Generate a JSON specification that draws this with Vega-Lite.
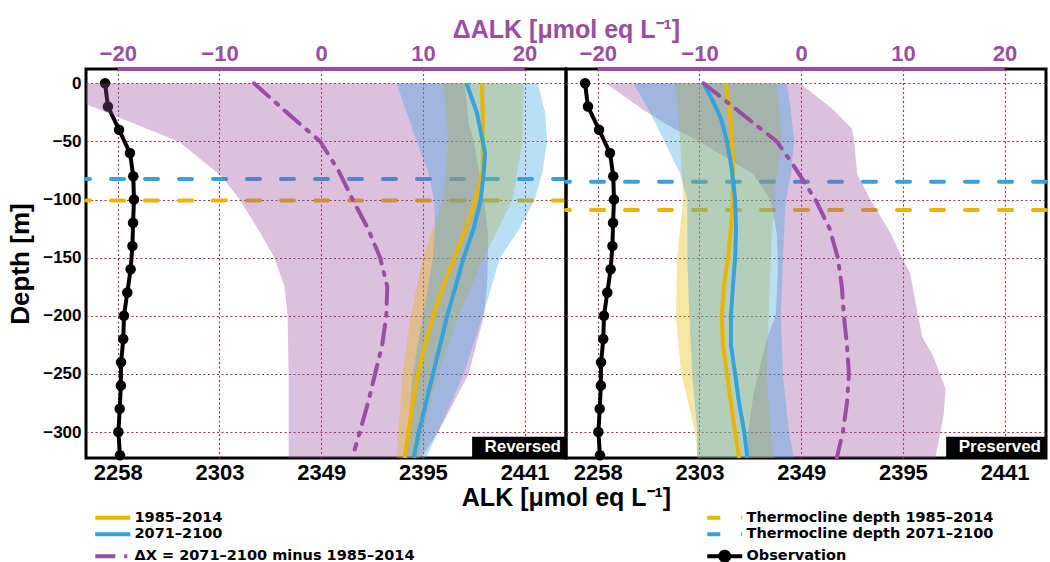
{
  "$schema": "https://vega.github.io/schema/vega-lite/v6.json",
  "padding": {"left": 6, "top": 15, "right": 0, "bottom": 0},
  "background": "white",
  "spacing": 0,
  "bounds": "flush",
  "datasets": {
    "obs": [
      {"series": "Observation", "depth": 0, "alk": 2251.8},
      {"series": "Observation", "depth": -20, "alk": 2253.1},
      {"series": "Observation", "depth": -40, "alk": 2258.1},
      {"series": "Observation", "depth": -60, "alk": 2263.0},
      {"series": "Observation", "depth": -80, "alk": 2264.5},
      {"series": "Observation", "depth": -100, "alk": 2264.8},
      {"series": "Observation", "depth": -120, "alk": 2264.4},
      {"series": "Observation", "depth": -140, "alk": 2264.1},
      {"series": "Observation", "depth": -160, "alk": 2263.3},
      {"series": "Observation", "depth": -180, "alk": 2261.8},
      {"series": "Observation", "depth": -200, "alk": 2260.3},
      {"series": "Observation", "depth": -220, "alk": 2260.0},
      {"series": "Observation", "depth": -240, "alk": 2259.0},
      {"series": "Observation", "depth": -260, "alk": 2258.9},
      {"series": "Observation", "depth": -280, "alk": 2258.4},
      {"series": "Observation", "depth": -300, "alk": 2257.8},
      {"series": "Observation", "depth": -320, "alk": 2258.5}
    ],
    "thermo": [
      {"panel": "L", "series": "Thermocline depth 1985–2014", "depth": -100.9},
      {"panel": "L", "series": "Thermocline depth 2071–2100", "depth": -82.3},
      {"panel": "R", "series": "Thermocline depth 1985–2014", "depth": -108.9},
      {"panel": "R", "series": "Thermocline depth 2071–2100", "depth": -84.6}
    ],
    "labels": [
      {"panel": "L", "label": "Reversed"},
      {"panel": "R", "label": "Preserved"}
    ],
    "lines": [
      {"panel": "L", "series": "1985–2014", "depth": 0, "alk": 2421.3},
      {"panel": "L", "series": "1985–2014", "depth": -25, "alk": 2421.7},
      {"panel": "L", "series": "1985–2014", "depth": -50, "alk": 2421.7},
      {"panel": "L", "series": "1985–2014", "depth": -75, "alk": 2421.7},
      {"panel": "L", "series": "1985–2014", "depth": -100, "alk": 2418.5},
      {"panel": "L", "series": "1985–2014", "depth": -125, "alk": 2414.0},
      {"panel": "L", "series": "1985–2014", "depth": -150, "alk": 2408.9},
      {"panel": "L", "series": "1985–2014", "depth": -175, "alk": 2403.9},
      {"panel": "L", "series": "1985–2014", "depth": -200, "alk": 2399.3},
      {"panel": "L", "series": "1985–2014", "depth": -225, "alk": 2395.7},
      {"panel": "L", "series": "1985–2014", "depth": -250, "alk": 2392.5},
      {"panel": "L", "series": "1985–2014", "depth": -275, "alk": 2390.2},
      {"panel": "L", "series": "1985–2014", "depth": -300, "alk": 2388.3},
      {"panel": "L", "series": "1985–2014", "depth": -322.3, "alk": 2386.5},
      {"panel": "L", "series": "2071–2100", "depth": 0, "alk": 2414.4},
      {"panel": "L", "series": "2071–2100", "depth": -25, "alk": 2419.0},
      {"panel": "L", "series": "2071–2100", "depth": -50, "alk": 2421.7},
      {"panel": "L", "series": "2071–2100", "depth": -60, "alk": 2422.7},
      {"panel": "L", "series": "2071–2100", "depth": -75, "alk": 2422.2},
      {"panel": "L", "series": "2071–2100", "depth": -100, "alk": 2420.8},
      {"panel": "L", "series": "2071–2100", "depth": -125, "alk": 2417.6},
      {"panel": "L", "series": "2071–2100", "depth": -150, "alk": 2413.1},
      {"panel": "L", "series": "2071–2100", "depth": -175, "alk": 2409.4},
      {"panel": "L", "series": "2071–2100", "depth": -200, "alk": 2405.7},
      {"panel": "L", "series": "2071–2100", "depth": -225, "alk": 2402.5},
      {"panel": "L", "series": "2071–2100", "depth": -250, "alk": 2399.3},
      {"panel": "L", "series": "2071–2100", "depth": -275, "alk": 2396.1},
      {"panel": "L", "series": "2071–2100", "depth": -300, "alk": 2392.9},
      {"panel": "L", "series": "2071–2100", "depth": -322.3, "alk": 2390.6},
      {"panel": "R", "series": "1985–2014", "depth": 0, "alk": 2315.1},
      {"panel": "R", "series": "1985–2014", "depth": -25, "alk": 2317.0},
      {"panel": "R", "series": "1985–2014", "depth": -50, "alk": 2317.9},
      {"panel": "R", "series": "1985–2014", "depth": -75, "alk": 2318.3},
      {"panel": "R", "series": "1985–2014", "depth": -100, "alk": 2318.3},
      {"panel": "R", "series": "1985–2014", "depth": -125, "alk": 2317.4},
      {"panel": "R", "series": "1985–2014", "depth": -150, "alk": 2316.1},
      {"panel": "R", "series": "1985–2014", "depth": -175, "alk": 2314.2},
      {"panel": "R", "series": "1985–2014", "depth": -200, "alk": 2313.3},
      {"panel": "R", "series": "1985–2014", "depth": -225, "alk": 2313.8},
      {"panel": "R", "series": "1985–2014", "depth": -250, "alk": 2315.6},
      {"panel": "R", "series": "1985–2014", "depth": -275, "alk": 2317.4},
      {"panel": "R", "series": "1985–2014", "depth": -300, "alk": 2319.3},
      {"panel": "R", "series": "1985–2014", "depth": -322.3, "alk": 2321.1},
      {"panel": "R", "series": "2071–2100", "depth": 0, "alk": 2305.1},
      {"panel": "R", "series": "2071–2100", "depth": -15, "alk": 2309.2},
      {"panel": "R", "series": "2071–2100", "depth": -30, "alk": 2312.9},
      {"panel": "R", "series": "2071–2100", "depth": -50, "alk": 2315.6},
      {"panel": "R", "series": "2071–2100", "depth": -75, "alk": 2317.9},
      {"panel": "R", "series": "2071–2100", "depth": -100, "alk": 2319.3},
      {"panel": "R", "series": "2071–2100", "depth": -125, "alk": 2319.7},
      {"panel": "R", "series": "2071–2100", "depth": -150, "alk": 2319.3},
      {"panel": "R", "series": "2071–2100", "depth": -175, "alk": 2318.3},
      {"panel": "R", "series": "2071–2100", "depth": -200, "alk": 2317.4},
      {"panel": "R", "series": "2071–2100", "depth": -225, "alk": 2317.4},
      {"panel": "R", "series": "2071–2100", "depth": -250, "alk": 2319.3},
      {"panel": "R", "series": "2071–2100", "depth": -275, "alk": 2321.1},
      {"panel": "R", "series": "2071–2100", "depth": -300, "alk": 2323.4},
      {"panel": "R", "series": "2071–2100", "depth": -322.3, "alk": 2324.8}
    ],
    "dline": [
      {"panel": "L", "series": "ΔX = 2071–2100 minus 1985–2014", "depth": 0, "dalk": -6.6},
      {"panel": "L", "series": "ΔX = 2071–2100 minus 1985–2014", "depth": -25, "dalk": -3.4},
      {"panel": "L", "series": "ΔX = 2071–2100 minus 1985–2014", "depth": -50, "dalk": -0.1},
      {"panel": "L", "series": "ΔX = 2071–2100 minus 1985–2014", "depth": -75, "dalk": 1.7},
      {"panel": "L", "series": "ΔX = 2071–2100 minus 1985–2014", "depth": -100, "dalk": 3.1},
      {"panel": "L", "series": "ΔX = 2071–2100 minus 1985–2014", "depth": -125, "dalk": 4.6},
      {"panel": "L", "series": "ΔX = 2071–2100 minus 1985–2014", "depth": -150, "dalk": 5.8},
      {"panel": "L", "series": "ΔX = 2071–2100 minus 1985–2014", "depth": -175, "dalk": 6.5},
      {"panel": "L", "series": "ΔX = 2071–2100 minus 1985–2014", "depth": -200, "dalk": 6.4},
      {"panel": "L", "series": "ΔX = 2071–2100 minus 1985–2014", "depth": -225, "dalk": 6.0},
      {"panel": "L", "series": "ΔX = 2071–2100 minus 1985–2014", "depth": -250, "dalk": 5.3},
      {"panel": "L", "series": "ΔX = 2071–2100 minus 1985–2014", "depth": -275, "dalk": 4.6},
      {"panel": "L", "series": "ΔX = 2071–2100 minus 1985–2014", "depth": -300, "dalk": 3.8},
      {"panel": "L", "series": "ΔX = 2071–2100 minus 1985–2014", "depth": -315, "dalk": 3.3},
      {"panel": "R", "series": "ΔX = 2071–2100 minus 1985–2014", "depth": 0, "dalk": -9.6},
      {"panel": "R", "series": "ΔX = 2071–2100 minus 1985–2014", "depth": -25, "dalk": -6.0},
      {"panel": "R", "series": "ΔX = 2071–2100 minus 1985–2014", "depth": -50, "dalk": -2.4},
      {"panel": "R", "series": "ΔX = 2071–2100 minus 1985–2014", "depth": -70, "dalk": -0.8},
      {"panel": "R", "series": "ΔX = 2071–2100 minus 1985–2014", "depth": -100, "dalk": 1.4},
      {"panel": "R", "series": "ΔX = 2071–2100 minus 1985–2014", "depth": -125, "dalk": 2.8},
      {"panel": "R", "series": "ΔX = 2071–2100 minus 1985–2014", "depth": -150, "dalk": 3.6},
      {"panel": "R", "series": "ΔX = 2071–2100 minus 1985–2014", "depth": -175, "dalk": 4.0},
      {"panel": "R", "series": "ΔX = 2071–2100 minus 1985–2014", "depth": -200, "dalk": 4.2},
      {"panel": "R", "series": "ΔX = 2071–2100 minus 1985–2014", "depth": -225, "dalk": 4.5},
      {"panel": "R", "series": "ΔX = 2071–2100 minus 1985–2014", "depth": -250, "dalk": 4.7},
      {"panel": "R", "series": "ΔX = 2071–2100 minus 1985–2014", "depth": -275, "dalk": 4.5},
      {"panel": "R", "series": "ΔX = 2071–2100 minus 1985–2014", "depth": -300, "dalk": 4.1},
      {"panel": "R", "series": "ΔX = 2071–2100 minus 1985–2014", "depth": -322.3, "dalk": 3.5}
    ],
    "bands": [
      {"panel": "L", "series": "1985–2014", "depth": 0, "lo": 2403.9, "hi": 2440.0},
      {"panel": "L", "series": "1985–2014", "depth": -50, "lo": 2406.2, "hi": 2439.6},
      {"panel": "L", "series": "1985–2014", "depth": -100, "lo": 2403.9, "hi": 2435.0},
      {"panel": "L", "series": "1985–2014", "depth": -150, "lo": 2394.8, "hi": 2422.2},
      {"panel": "L", "series": "1985–2014", "depth": -200, "lo": 2389.3, "hi": 2410.8},
      {"panel": "L", "series": "1985–2014", "depth": -250, "lo": 2385.6, "hi": 2401.6},
      {"panel": "L", "series": "1985–2014", "depth": -300, "lo": 2383.8, "hi": 2394.8},
      {"panel": "L", "series": "1985–2014", "depth": -322.3, "lo": 2382.9, "hi": 2392.9},
      {"panel": "L", "series": "2071–2100", "depth": 0, "lo": 2382.9, "hi": 2446.4},
      {"panel": "L", "series": "2071–2100", "depth": -25, "lo": 2387.4, "hi": 2449.7},
      {"panel": "L", "series": "2071–2100", "depth": -50, "lo": 2392.0, "hi": 2450.6},
      {"panel": "L", "series": "2071–2100", "depth": -75, "lo": 2397.0, "hi": 2448.7},
      {"panel": "L", "series": "2071–2100", "depth": -100, "lo": 2399.8, "hi": 2445.1},
      {"panel": "L", "series": "2071–2100", "depth": -125, "lo": 2400.2, "hi": 2438.2},
      {"panel": "L", "series": "2071–2100", "depth": -150, "lo": 2399.3, "hi": 2429.5},
      {"panel": "L", "series": "2071–2100", "depth": -200, "lo": 2394.8, "hi": 2421.7},
      {"panel": "L", "series": "2071–2100", "depth": -250, "lo": 2390.2, "hi": 2413.1},
      {"panel": "L", "series": "2071–2100", "depth": -300, "lo": 2387.9, "hi": 2401.6},
      {"panel": "L", "series": "2071–2100", "depth": -322.3, "lo": 2387.0, "hi": 2396.1},
      {"panel": "R", "series": "1985–2014", "depth": 0, "lo": 2292.3, "hi": 2338.0},
      {"panel": "R", "series": "1985–2014", "depth": -49, "lo": 2294.6, "hi": 2340.3},
      {"panel": "R", "series": "1985–2014", "depth": -100, "lo": 2295.9, "hi": 2336.6},
      {"panel": "R", "series": "1985–2014", "depth": -150, "lo": 2293.2, "hi": 2335.3},
      {"panel": "R", "series": "1985–2014", "depth": -200, "lo": 2292.7, "hi": 2334.4},
      {"panel": "R", "series": "1985–2014", "depth": -250, "lo": 2295.0, "hi": 2333.4},
      {"panel": "R", "series": "1985–2014", "depth": -300, "lo": 2301.4, "hi": 2335.3},
      {"panel": "R", "series": "1985–2014", "depth": -322.3, "lo": 2302.3, "hi": 2336.6},
      {"panel": "R", "series": "2071–2100", "depth": 0, "lo": 2273.5, "hi": 2342.6},
      {"panel": "R", "series": "2071–2100", "depth": -23, "lo": 2280.4, "hi": 2344.4},
      {"panel": "R", "series": "2071–2100", "depth": -49, "lo": 2287.2, "hi": 2345.8},
      {"panel": "R", "series": "2071–2100", "depth": -78, "lo": 2294.6, "hi": 2344.4},
      {"panel": "R", "series": "2071–2100", "depth": -100, "lo": 2297.8, "hi": 2342.1},
      {"panel": "R", "series": "2071–2100", "depth": -150, "lo": 2297.8, "hi": 2340.8},
      {"panel": "R", "series": "2071–2100", "depth": -200, "lo": 2298.7, "hi": 2339.9},
      {"panel": "R", "series": "2071–2100", "depth": -250, "lo": 2300.0, "hi": 2340.8},
      {"panel": "R", "series": "2071–2100", "depth": -300, "lo": 2302.3, "hi": 2343.5},
      {"panel": "R", "series": "2071–2100", "depth": -322.3, "lo": 2302.3, "hi": 2345.8}
    ],
    "dband": [
      {"panel": "L", "depth": 0, "lo": -28.0, "hi": 14.1},
      {"panel": "L", "depth": -18, "lo": -23.12, "hi": 14.3},
      {"panel": "L", "depth": -35, "lo": -18.3, "hi": 14.5},
      {"panel": "L", "depth": -50, "lo": -14.0, "hi": 15.0},
      {"panel": "L", "depth": -80, "lo": -9.8, "hi": 15.6},
      {"panel": "L", "depth": -100, "lo": -8.0, "hi": 16.0},
      {"panel": "L", "depth": -130, "lo": -5.9, "hi": 16.4},
      {"panel": "L", "depth": -150, "lo": -4.6, "hi": 16.4},
      {"panel": "L", "depth": -175, "lo": -3.6, "hi": 16.3},
      {"panel": "L", "depth": -200, "lo": -3.3, "hi": 16.0},
      {"panel": "L", "depth": -250, "lo": -3.2, "hi": 14.5},
      {"panel": "L", "depth": -300, "lo": -3.2, "hi": 11.5},
      {"panel": "L", "depth": -322.3, "lo": -3.2, "hi": 9.8},
      {"panel": "R", "depth": 0, "lo": -19.2, "hi": -0.1},
      {"panel": "R", "depth": -23, "lo": -15.5, "hi": 3.2},
      {"panel": "R", "depth": -39, "lo": -12.5, "hi": 5.0},
      {"panel": "R", "depth": -49, "lo": -10.2, "hi": 5.2},
      {"panel": "R", "depth": -78, "lo": -4.7, "hi": 5.5},
      {"panel": "R", "depth": -100, "lo": -3.0, "hi": 6.8},
      {"panel": "R", "depth": -129, "lo": -2.4, "hi": 8.8},
      {"panel": "R", "depth": -150, "lo": -2.3, "hi": 9.9},
      {"panel": "R", "depth": -163, "lo": -2.3, "hi": 10.7},
      {"panel": "R", "depth": -200, "lo": -2.5, "hi": 11.5},
      {"panel": "R", "depth": -218, "lo": -3.3, "hi": 11.9},
      {"panel": "R", "depth": -235, "lo": -3.8, "hi": 13.0},
      {"panel": "R", "depth": -263, "lo": -4.6, "hi": 14.2},
      {"panel": "R", "depth": -286, "lo": -5.0, "hi": 14.0},
      {"panel": "R", "depth": -322.3, "lo": -5.5, "hi": 13.2}
    ]
  },
  "hconcat": [
    {
      "width": 480,
      "height": 389,
      "resolve": {"scale": {"x": "independent"}, "axis": {"x": "independent"}},
      "layer": [
        {
          "data": {"name": "obs"},
          "mark": {"type": "line", "strokeWidth": 4},
          "encoding": {
            "x": {"field": "alk", "type": "quantitative", "scale": {"domain": [2243.23, 2459.12], "nice": false, "zero": false},
              "axis": {"orient": "bottom", "values": [2257.5, 2303.25, 2349, 2394.75, 2440.5], "format": "d", "labelFontSize": 22, "labelPadding": 4, "grid": true, "labelFlush": false, "labelOverlap": false, "title": "ALK [μmol eq L⁻¹]", "titleFontSize": 25, "titleX": 480, "titlePadding": 2}},
            "y": {"field": "depth", "type": "quantitative", "scale": {"domain": [-322.3, 12.3], "nice": false, "zero": false},
              "axis": {"values": [0, -50, -100, -150, -200, -250, -300], "title": "Depth [m]", "titleFontSize": 26, "labelFontSize": 17, "labelPadding": 5, "titlePadding": 9, "grid": true, "labelFlush": false}},
            "order": {"field": "depth", "sort": "descending"},
            "color": {"field": "series", "type": "nominal", "scale": {"domain": ["1985–2014", "2071–2100", "ΔX = 2071–2100 minus 1985–2014", "Thermocline depth 1985–2014", "Thermocline depth 2071–2100", "Observation"], "range": ["#E8B500", "#33A2DE", "#9A4EA3", "#E8B500", "#33A2DE", "#000000"]},
              "legend": {"orient": "none", "legendX": 7, "legendY": 441, "columns": 2, "columnPadding": 284, "rowPadding": 0, "title": null,
                "encode": {"symbols": {"update": {"shape": {"signal": "datum.value === 'Observation' ? 'M-1,0H6M1.6,0A0.9,0.9 0 1,1 3.4,0A0.9,0.9 0 1,1 1.6,0Z' : 'M-1,0H6'"}, "fill": {"signal": "datum.value === 'Observation' ? 'black' : 'transparent'"}}}}}},
            "strokeDash": {"field": "series", "type": "nominal", "scale": {"domain": ["1985–2014", "2071–2100", "ΔX = 2071–2100 minus 1985–2014", "Thermocline depth 1985–2014", "Thermocline depth 2071–2100", "Observation"], "range": [[1, 0], [1, 0], [20, 9, 3, 9], [13, 21], [13, 21], [1, 0]]},
              "legend": {"orient": "none", "legendX": 7, "legendY": 441, "columns": 2, "columnPadding": 284, "rowPadding": 0, "title": null,
                "encode": {"symbols": {"update": {"shape": {"signal": "datum.value === 'Observation' ? 'M-1,0H6M1.6,0A0.9,0.9 0 1,1 3.4,0A0.9,0.9 0 1,1 1.6,0Z' : 'M-1,0H6'"}, "fill": {"signal": "datum.value === 'Observation' ? 'black' : 'transparent'"}}}}}}
          }
        },
        {
          "data": {"name": "obs"},
          "mark": {"type": "circle", "size": 110, "color": "black", "opacity": 1},
          "encoding": {
            "x": {"field": "alk", "type": "quantitative", "scale": {"domain": [2243.23, 2459.12], "nice": false, "zero": false}, "axis": null},
            "y": {"field": "depth", "type": "quantitative", "scale": {"domain": [-322.3, 12.3], "nice": false, "zero": false}}
          }
        },
        {
          "data": {"name": "thermo"},
          "transform": [{"filter": "datum.panel === 'L'"}],
          "mark": {"type": "rule", "strokeWidth": 4, "strokeCap": "round"},
          "encoding": {
            "y": {"field": "depth", "type": "quantitative", "scale": {"domain": [-322.3, 12.3], "nice": false, "zero": false}},
            "color": {"field": "series", "type": "nominal"},
            "strokeDash": {"field": "series", "type": "nominal"}
          }
        },
        {
          "data": {"name": "dband"},
          "transform": [{"filter": "datum.panel === 'L'"}],
          "mark": {"type": "area", "orient": "horizontal", "color": "#9A4EA3", "opacity": 0.35, "clip": true},
          "encoding": {
            "x": {"field": "lo", "type": "quantitative", "scale": {"domain": [-23.12, 24.07], "nice": false, "zero": false},
              "axis": {"orient": "top", "values": [-20, -10, 0, 10, 20], "labelFontSize": 22, "labelColor": "#9A4EA3", "labelPadding": 4, "grid": false, "labelFlush": false, "title": "ΔALK [μmol eq L⁻¹]", "titleColor": "#9A4EA3", "titleFontSize": 25, "titleX": 480, "titlePadding": 0}},
            "x2": {"field": "hi"},
            "y": {"field": "depth", "type": "quantitative", "scale": {"domain": [-322.3, 12.3], "nice": false, "zero": false}}
          }
        },
        {
          "data": {"name": "bands"},
          "transform": [{"filter": "datum.panel === 'L'"}],
          "mark": {"type": "area", "orient": "horizontal", "opacity": 0.35},
          "encoding": {
            "x": {"field": "lo", "type": "quantitative", "scale": {"domain": [2243.23, 2459.12], "nice": false, "zero": false}, "axis": null},
            "x2": {"field": "hi"},
            "y": {"field": "depth", "type": "quantitative", "scale": {"domain": [-322.3, 12.3], "nice": false, "zero": false}},
            "fill": {"field": "series", "type": "nominal", "scale": {"domain": ["1985–2014", "2071–2100"], "range": ["#E8B500", "#33A2DE"]}, "legend": null}
          }
        },
        {
          "data": {"name": "lines"},
          "transform": [{"filter": "datum.panel === 'L'"}],
          "mark": {"type": "line", "strokeWidth": 4},
          "encoding": {
            "x": {"field": "alk", "type": "quantitative", "scale": {"domain": [2243.23, 2459.12], "nice": false, "zero": false}, "axis": null},
            "y": {"field": "depth", "type": "quantitative", "scale": {"domain": [-322.3, 12.3], "nice": false, "zero": false}},
            "order": {"field": "depth", "sort": "descending"},
            "color": {"field": "series", "type": "nominal"},
            "strokeDash": {"field": "series", "type": "nominal"}
          }
        },
        {
          "data": {"name": "dline"},
          "transform": [{"filter": "datum.panel === 'L'"}],
          "mark": {"type": "line", "strokeWidth": 4, "strokeCap": "round"},
          "encoding": {
            "x": {"field": "dalk", "type": "quantitative", "scale": {"domain": [-23.12, 24.07], "nice": false, "zero": false}, "axis": null},
            "y": {"field": "depth", "type": "quantitative", "scale": {"domain": [-322.3, 12.3], "nice": false, "zero": false}},
            "order": {"field": "depth", "sort": "descending"},
            "color": {"field": "series", "type": "nominal"},
            "strokeDash": {"field": "series", "type": "nominal"}
          }
        },
        {
          "data": {"name": "labels"},
          "transform": [{"filter": "datum.panel === 'L'"}],
          "mark": {"type": "rule", "color": "#9A4EA3", "strokeWidth": 4},
          "encoding": {
            "x": {"datum": -20, "type": "quantitative", "scale": {"domain": [-23.12, 24.07], "nice": false, "zero": false}, "axis": null},
            "x2": {"datum": 20},
            "y": {"datum": 12.3, "type": "quantitative", "scale": {"domain": [-322.3, 12.3], "nice": false, "zero": false}}
          }
        },
        {
          "data": {"name": "labels"},
          "transform": [{"filter": "datum.panel === 'L'"}],
          "mark": {"type": "rect", "color": "black", "opacity": 1},
          "encoding": {
            "x": {"datum": 2416.9, "type": "quantitative", "scale": {"domain": [2243.23, 2459.12], "nice": false, "zero": false}, "axis": null},
            "x2": {"datum": 2459.12},
            "y": {"datum": -322.3, "type": "quantitative", "scale": {"domain": [-322.3, 12.3], "nice": false, "zero": false}},
            "y2": {"datum": -304.0}
          }
        },
        {
          "data": {"name": "labels"},
          "transform": [{"filter": "datum.panel === 'L'"}],
          "mark": {"type": "text", "color": "white", "font": "Liberation Sans", "fontWeight": "bold", "fontSize": 17, "align": "right", "baseline": "bottom", "dx": -5, "dy": -2},
          "encoding": {
            "x": {"datum": 2459.12, "type": "quantitative", "scale": {"domain": [2243.23, 2459.12], "nice": false, "zero": false}, "axis": null},
            "y": {"datum": -322.3, "type": "quantitative", "scale": {"domain": [-322.3, 12.3], "nice": false, "zero": false}},
            "text": {"field": "label"}
          }
        }
      ]
    },
    {
      "width": 480,
      "height": 389,
      "resolve": {"scale": {"x": "independent"}, "axis": {"x": "independent"}},
      "layer": [
        {
          "data": {"name": "obs"},
          "mark": {"type": "line", "strokeWidth": 4},
          "encoding": {
            "x": {"field": "alk", "type": "quantitative", "scale": {"domain": [2243.23, 2459.12], "nice": false, "zero": false},
              "axis": {"orient": "bottom", "values": [2257.5, 2303.25, 2349, 2394.75, 2440.5], "format": "d", "labelFontSize": 22, "labelPadding": 4, "grid": true, "labelFlush": false, "labelOverlap": false, "title": null}},
            "y": {"field": "depth", "type": "quantitative", "scale": {"domain": [-322.3, 12.3], "nice": false, "zero": false},
              "axis": {"values": [0, -50, -100, -150, -200, -250, -300], "title": null, "labels": false, "grid": true}},
            "order": {"field": "depth", "sort": "descending"},
            "color": {"field": "series", "type": "nominal"},
            "strokeDash": {"field": "series", "type": "nominal"}
          }
        },
        {
          "data": {"name": "obs"},
          "mark": {"type": "circle", "size": 110, "color": "black", "opacity": 1},
          "encoding": {
            "x": {"field": "alk", "type": "quantitative", "scale": {"domain": [2243.23, 2459.12], "nice": false, "zero": false}, "axis": null},
            "y": {"field": "depth", "type": "quantitative", "scale": {"domain": [-322.3, 12.3], "nice": false, "zero": false}}
          }
        },
        {
          "data": {"name": "thermo"},
          "transform": [{"filter": "datum.panel === 'R'"}],
          "mark": {"type": "rule", "strokeWidth": 4, "strokeCap": "round"},
          "encoding": {
            "y": {"field": "depth", "type": "quantitative", "scale": {"domain": [-322.3, 12.3], "nice": false, "zero": false}},
            "color": {"field": "series", "type": "nominal"},
            "strokeDash": {"field": "series", "type": "nominal"}
          }
        },
        {
          "data": {"name": "dband"},
          "transform": [{"filter": "datum.panel === 'R'"}],
          "mark": {"type": "area", "orient": "horizontal", "color": "#9A4EA3", "opacity": 0.35, "clip": true},
          "encoding": {
            "x": {"field": "lo", "type": "quantitative", "scale": {"domain": [-23.12, 24.07], "nice": false, "zero": false},
              "axis": {"orient": "top", "values": [-20, -10, 0, 10, 20], "labelFontSize": 22, "labelColor": "#9A4EA3", "labelPadding": 4, "grid": false, "labelFlush": false, "title": null}},
            "x2": {"field": "hi"},
            "y": {"field": "depth", "type": "quantitative", "scale": {"domain": [-322.3, 12.3], "nice": false, "zero": false}}
          }
        },
        {
          "data": {"name": "bands"},
          "transform": [{"filter": "datum.panel === 'R'"}],
          "mark": {"type": "area", "orient": "horizontal", "opacity": 0.35},
          "encoding": {
            "x": {"field": "lo", "type": "quantitative", "scale": {"domain": [2243.23, 2459.12], "nice": false, "zero": false}, "axis": null},
            "x2": {"field": "hi"},
            "y": {"field": "depth", "type": "quantitative", "scale": {"domain": [-322.3, 12.3], "nice": false, "zero": false}},
            "fill": {"field": "series", "type": "nominal", "scale": {"domain": ["1985–2014", "2071–2100"], "range": ["#E8B500", "#33A2DE"]}, "legend": null}
          }
        },
        {
          "data": {"name": "lines"},
          "transform": [{"filter": "datum.panel === 'R'"}],
          "mark": {"type": "line", "strokeWidth": 4},
          "encoding": {
            "x": {"field": "alk", "type": "quantitative", "scale": {"domain": [2243.23, 2459.12], "nice": false, "zero": false}, "axis": null},
            "y": {"field": "depth", "type": "quantitative", "scale": {"domain": [-322.3, 12.3], "nice": false, "zero": false}},
            "order": {"field": "depth", "sort": "descending"},
            "color": {"field": "series", "type": "nominal"},
            "strokeDash": {"field": "series", "type": "nominal"}
          }
        },
        {
          "data": {"name": "dline"},
          "transform": [{"filter": "datum.panel === 'R'"}],
          "mark": {"type": "line", "strokeWidth": 4, "strokeCap": "round"},
          "encoding": {
            "x": {"field": "dalk", "type": "quantitative", "scale": {"domain": [-23.12, 24.07], "nice": false, "zero": false}, "axis": null},
            "y": {"field": "depth", "type": "quantitative", "scale": {"domain": [-322.3, 12.3], "nice": false, "zero": false}},
            "order": {"field": "depth", "sort": "descending"},
            "color": {"field": "series", "type": "nominal"},
            "strokeDash": {"field": "series", "type": "nominal"}
          }
        },
        {
          "data": {"name": "labels"},
          "transform": [{"filter": "datum.panel === 'R'"}],
          "mark": {"type": "rule", "color": "#9A4EA3", "strokeWidth": 4},
          "encoding": {
            "x": {"datum": -20, "type": "quantitative", "scale": {"domain": [-23.12, 24.07], "nice": false, "zero": false}, "axis": null},
            "x2": {"datum": 20},
            "y": {"datum": 12.3, "type": "quantitative", "scale": {"domain": [-322.3, 12.3], "nice": false, "zero": false}}
          }
        },
        {
          "data": {"name": "labels"},
          "transform": [{"filter": "datum.panel === 'R'"}],
          "mark": {"type": "rect", "color": "black", "opacity": 1},
          "encoding": {
            "x": {"datum": 2414.2, "type": "quantitative", "scale": {"domain": [2243.23, 2459.12], "nice": false, "zero": false}, "axis": null},
            "x2": {"datum": 2459.12},
            "y": {"datum": -322.3, "type": "quantitative", "scale": {"domain": [-322.3, 12.3], "nice": false, "zero": false}},
            "y2": {"datum": -304.0}
          }
        },
        {
          "data": {"name": "labels"},
          "transform": [{"filter": "datum.panel === 'R'"}],
          "mark": {"type": "text", "color": "white", "font": "Liberation Sans", "fontWeight": "bold", "fontSize": 17, "align": "right", "baseline": "bottom", "dx": -5, "dy": -2},
          "encoding": {
            "x": {"datum": 2459.12, "type": "quantitative", "scale": {"domain": [2243.23, 2459.12], "nice": false, "zero": false}, "axis": null},
            "y": {"datum": -322.3, "type": "quantitative", "scale": {"domain": [-322.3, 12.3], "nice": false, "zero": false}},
            "text": {"field": "label"}
          }
        }
      ]
    }
  ],
  "config": {
    "view": {"stroke": "black", "strokeWidth": 3},
    "font": "Liberation Sans",
    "axis": {"ticks": false, "tickSize": 0, "domain": false, "labelFont": "Liberation Sans", "titleFont": "Liberation Sans", "labelFontWeight": "bold", "titleFontWeight": "bold", "labelColor": "black", "titleColor": "black", "gridColor": "#A0303C", "gridDash": [2, 2.5], "gridWidth": 1.1, "gridOpacity": 1},
    "legend": {"symbolType": "M-1,0H6", "symbolSize": 100, "symbolStrokeWidth": 4, "labelFont": "DejaVu Sans", "labelFontSize": 14.5, "labelFontWeight": "bold", "labelColor": "black", "labelOffset": 27, "labelLimit": 400, "padding": 0, "rowPadding": 0}
  }
}
